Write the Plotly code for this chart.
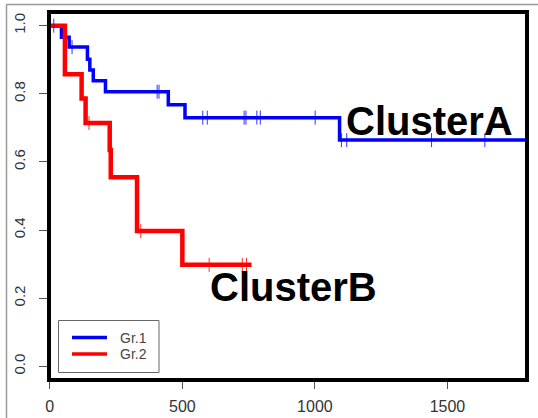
import plotly.graph_objects as go

# ---- data ----
blue_time = [0, 44, 73, 142, 151, 164, 210, 447, 510, 1093, 1800]
blue_surv = [1.0, 0.966, 0.937, 0.901, 0.870, 0.838, 0.806, 0.768, 0.730, 0.664, 0.664]
blue_censor = [15, 84, 405, 412, 577, 594, 733, 740, 781, 794, 1001, 1100, 1120, 1440, 1641]

red_time = [0, 57, 120, 135, 226, 230, 329, 500, 761]
red_surv = [1.0, 0.857, 0.786, 0.714, 0.635, 0.555, 0.397, 0.298, 0.298]
red_censor = [148, 343, 601, 726, 742]

x_ticks = [0, 500, 1000, 1500]
y_ticks = [0.0, 0.2, 0.4, 0.6, 0.8, 1.0]
y_tick_labels = ["0.0", "0.2", "0.4", "0.6", "0.8", "1.0"]

group_names = ["Gr.1", "Gr.2"]
group_colors = ["#0000ff", "#ff0000"]
cluster_labels = ["ClusterA", "ClusterB"]


def step_value(times, survs, t):
    v = survs[0]
    for ti, si in zip(times, survs):
        if ti <= t:
            v = si
    return v


W, H = 538, 418
L, R, T, B = 49, 11, 12, 38
pw, ph = W - L - R, H - T - B


def px(xp):
    return (xp - L) / pw


def py(yp):
    return (H - B - yp) / ph


FONT = "Liberation Sans, Arial, sans-serif"

fig = go.Figure()

fig.add_trace(go.Scatter(x=blue_time, y=blue_surv, mode="lines", line_shape="hv",
                         line=dict(color=group_colors[0], width=3.5), name=group_names[0],
                         showlegend=False))
fig.add_trace(go.Scatter(x=red_time, y=red_surv, mode="lines", line_shape="hv",
                         line=dict(color=group_colors[1], width=4.5), name=group_names[1],
                         showlegend=False))

fig.add_trace(go.Scatter(x=blue_censor,
                         y=[step_value(blue_time, blue_surv, t) for t in blue_censor],
                         mode="markers", showlegend=False, hoverinfo="skip",
                         marker=dict(symbol="line-ns", size=10,
                                     line=dict(width=1, color="rgba(0,0,255,0.8)"))))
fig.add_trace(go.Scatter(x=red_censor,
                         y=[step_value(red_time, red_surv, t) for t in red_censor],
                         mode="markers", showlegend=False, hoverinfo="skip",
                         marker=dict(symbol="line-ns", size=10,
                                     line=dict(width=1, color="rgba(255,0,0,0.8)"))))

fig.update_xaxes(range=[-3, 1800], tickvals=x_ticks, ticktext=[str(v) for v in x_ticks],
                 ticks="outside", ticklen=8, tickwidth=1, tickcolor="#555",
                 showgrid=False, zeroline=False, showline=False, automargin=False,
                 tickfont=dict(family=FONT, size=16, color="#333"),
                 ticklabelstandoff=4)
fig.update_yaxes(range=[-0.04, 1.04], tickvals=y_ticks, ticktext=y_tick_labels,
                 ticks="outside", ticklen=9, tickwidth=1, tickcolor="#555",
                 showgrid=False, zeroline=False, showline=False, tickangle=-90,
                 automargin=False,
                 tickfont=dict(family=FONT, size=15, color="#333"),
                 ticklabelstandoff=8)

shapes = [
    dict(type="rect", xref="paper", yref="paper", x0=0, x1=1, y0=0, y1=1,
         line=dict(color="black", width=4), layer="above"),
    dict(type="line", xref="paper", yref="paper", x0=px(6.5), x1=px(6.5), y0=py(H + 2), y1=py(4.5),
         line=dict(color="#9a9a9a", width=1.5)),
    dict(type="line", xref="paper", yref="paper", x0=px(6), x1=px(W + 2), y0=py(4.5), y1=py(4.5),
         line=dict(color="#9a9a9a", width=1.5)),
    # legend box
    dict(type="rect", xref="paper", yref="paper", x0=px(58.5), x1=px(159), y0=py(372.5), y1=py(320.5),
         line=dict(color="#666", width=1), fillcolor="white", layer="above"),
]

annotations = [
    dict(x=1110, y=0.72, xref="x", yref="y", text=cluster_labels[0], showarrow=False,
         xanchor="left", yanchor="middle",
         font=dict(family=FONT, size=40, color="black", weight="bold")),
    dict(x=598, y=0.234, xref="x", yref="y", text=cluster_labels[1], showarrow=False,
         xanchor="left", yanchor="middle",
         font=dict(family=FONT, size=40, color="black", weight="bold")),
]

# legend entries (line sample + label)
legend_rows = [337.5, 354]
for name, color, yrow in zip(group_names, group_colors, legend_rows):
    shapes.append(dict(type="line", xref="paper", yref="paper", x0=px(72), x1=px(107),
                       y0=py(yrow), y1=py(yrow), line=dict(color=color, width=3.5),
                       layer="above"))
    annotations.append(dict(x=px(118), y=py(yrow), xref="paper", yref="paper", text=name,
                            showarrow=False, xanchor="left", yanchor="middle",
                            font=dict(family=FONT, size=14, color="#444")))

fig.update_layout(
    width=W, height=H,
    margin=dict(l=L, r=R, t=T, b=B, pad=0, autoexpand=False),
    paper_bgcolor="white", plot_bgcolor="white",
    shapes=shapes, annotations=annotations,
    showlegend=False,
)

fig.write_html("out.html", config={"displayModeBar": False},
               post_script="document.body.style.margin='0';document.body.style.overflow='hidden';")
